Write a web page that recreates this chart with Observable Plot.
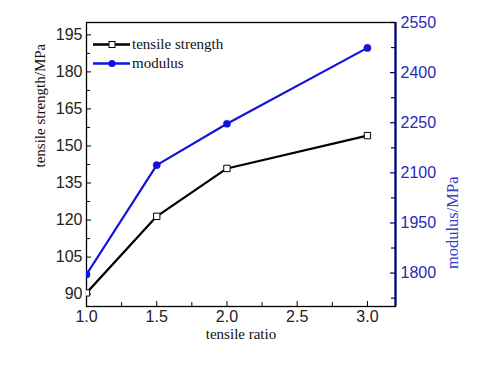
<!DOCTYPE html>
<html>
<head>
<meta charset="utf-8">
<script src="https://cdn.jsdelivr.net/npm/d3@7"></script>
<script src="https://cdn.jsdelivr.net/npm/@observablehq/plot@0.6"></script>
<style>
  html, body { margin: 0; padding: 0; background: #fff; }
  #chart { position: relative; width: 482px; height: 365px; }
  .serif, .serif text { font-family: "Liberation Serif", "Times New Roman", "DejaVu Serif", serif !important; }
</style>
</head>
<body>
<div id="chart"></div>
<script>
// ---- data ----
const ratio = [1.0, 1.5, 2.0, 3.0];
const strength = [90.5, 121.5, 140.9, 154.2];
const modulus = [1796, 2123, 2247, 2474];
const xTicks = [1.0, 1.5, 2.0, 2.5, 3.0];
const xMinor = [1.25, 1.75, 2.25, 2.75];
const leftTicks = [90, 105, 120, 135, 150, 165, 180, 195];
const leftMinor = [97.5, 112.5, 127.5, 142.5, 157.5, 172.5, 187.5];
const rightTicks = [1800, 1950, 2100, 2250, 2400, 2550];
const rightMinor = [1725, 1875, 2025, 2175, 2325, 2475];
const leftDomain = [85, 200];
const rightDomain = [1700, 2550];
const xDomain = [1.0, 3.2];

const toLeft = m => leftDomain[0] + (m - rightDomain[0]) * (leftDomain[1] - leftDomain[0]) / (rightDomain[1] - rightDomain[0]);
const fromLeft = v => String(Math.round(rightDomain[0] + (v - leftDomain[0]) * (rightDomain[1] - rightDomain[0]) / (leftDomain[1] - leftDomain[0])));

const sData = ratio.map((x, i) => ({x, y: strength[i]}));
const mData = ratio.map((x, i) => ({x, y: toLeft(modulus[i])}));

const W = 482, H = 365, mL = 86, mR = 87, mT = 22, mB = 59;
const fw = W - mL - mR, fh = H - mT - mB;
const blue = "#1212dc";
const navy = "#000080";
const sans = "'Liberation Sans', Arial, sans-serif";

const plot = Plot.plot({
  width: W, height: H,
  marginLeft: mL, marginRight: mR, marginTop: mT, marginBottom: mB,
  style: {background: "#fff", overflow: "visible"},
  x: {domain: xDomain},
  y: {domain: leftDomain},
  marks: [
    // ticks (inward)
    Plot.tickX(xTicks, {x: d => d, insetTop: fh - 5, stroke: "#000", strokeWidth: 1}),
    Plot.tickX(xMinor, {x: d => d, insetTop: fh - 4, stroke: "#000", strokeWidth: 1}),
    Plot.tickY(leftTicks, {y: d => d, insetRight: fw - 5, stroke: "#000", strokeWidth: 1}),
    Plot.tickY(leftMinor, {y: d => d, insetRight: fw - 4, stroke: "#000", strokeWidth: 1}),
    Plot.tickY(rightTicks.map(toLeft), {y: d => d, insetLeft: fw - 5, stroke: navy, strokeWidth: 1.2}),
    Plot.tickY(rightMinor.map(toLeft), {y: d => d, insetLeft: fw - 4, stroke: navy, strokeWidth: 1.2}),
    // axes labels
    Plot.axisX({ticks: xTicks, tickFormat: d3.format(".1f"), tickSize: 0, tickPadding: 4, label: null,
      fontSize: 16, fontFamily: sans, fill: "#222"}),
    Plot.axisY({ticks: leftTicks, tickSize: 0, tickPadding: 4, label: null,
      fontSize: 16, fontFamily: sans, fill: "#222"}),
    Plot.axisY({anchor: "right", ticks: rightTicks.map(toLeft), tickFormat: fromLeft, tickSize: 0, tickPadding: 5, label: null,
      fontSize: 16, fontFamily: sans, fill: "#2a2ab8"}),
    // frame
    Plot.frame({stroke: "#000", strokeWidth: 1.3}),
    Plot.ruleX([xDomain[1]], {stroke: navy, strokeWidth: 2.2}),
    // data
    Plot.line(mData, {x: "x", y: "y", stroke: blue, strokeWidth: 2.2, clip: true}),
    Plot.dot(mData, {x: "x", y: "y", r: 3.6, fill: blue, stroke: blue, strokeWidth: 0.5, clip: true}),
    Plot.line(sData, {x: "x", y: "y", stroke: "#000", strokeWidth: 2.2, clip: true}),
    Plot.dot(sData, {x: "x", y: "y", symbol: "square", r: 3.6, fill: "#fff", stroke: "#000", strokeWidth: 1, clip: true}),
    // axis titles
    Plot.text(["tensile ratio"], {frameAnchor: "bottom", dy: 32, fontSize: 15, fill: "#111", className: "serif"}),
    Plot.text(["tensile strength/MPa"], {frameAnchor: "left", dx: -46, dy: 3, rotate: -90, fontSize: 15, fill: "#111", className: "serif"}),
    Plot.text(["modulus/MPa"], {frameAnchor: "right", dx: 57, dy: 12, rotate: -90, fontSize: 16.5, fill: "#3a3acc", className: "serif"})
  ]
});

document.getElementById("chart").appendChild(plot);

// legend (inside frame, top-left)
const svg = d3.select(plot);
const leg = svg.append("g").attr("class", "serif");
const items = [
  {label: "tensile strength", color: "#000", sym: "square", y: 44.5},
  {label: "modulus", color: blue, sym: "circle", y: 63.5}
];
for (const it of items) {
  leg.append("line").attr("x1", 93).attr("x2", 130).attr("y1", it.y).attr("y2", it.y)
    .attr("stroke", it.color).attr("stroke-width", 2.5);
  if (it.sym === "square") {
    leg.append("rect").attr("x", 109).attr("y", it.y - 3).attr("width", 6).attr("height", 6)
      .attr("fill", "#fff").attr("stroke", "#000").attr("stroke-width", 1);
  } else {
    leg.append("circle").attr("cx", 112).attr("cy", it.y).attr("r", 3.6).attr("fill", blue);
  }
  leg.append("text").attr("x", 132).attr("y", it.y).attr("dy", "0.32em")
    .attr("text-anchor", "start")
    .attr("font-size", 15).attr("fill", "#111").text(it.label);
}
</script>
</body>
</html>
